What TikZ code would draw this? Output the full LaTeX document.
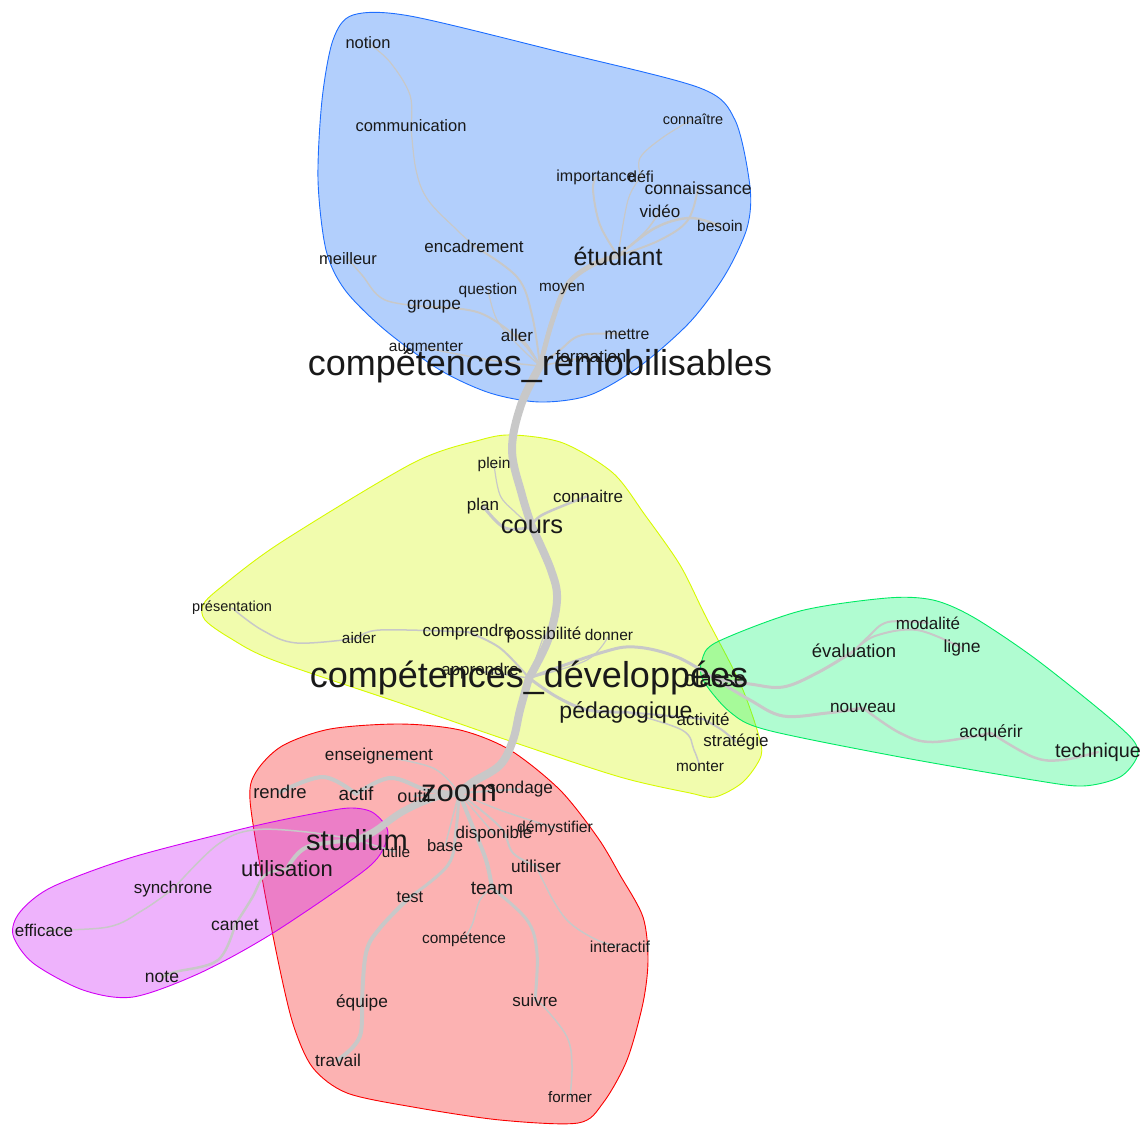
\documentclass[tikz,border=0pt]{standalone}
\usepackage{fontspec}
\setmainfont{Liberation Sans}
\pgfdeclarelayer{hulls}
\pgfdeclarelayer{edges}
\pgfsetlayers{hulls,edges,main}
\definecolor{bluefill}{RGB}{16,107,246}
\definecolor{blueline}{RGB}{30,110,255}
\definecolor{yelfill}{RGB}{210,246,0}
\definecolor{yelline}{RGB}{215,250,0}
\definecolor{grnfill}{RGB}{10,246,113}
\definecolor{grnline}{RGB}{0,235,100}
\definecolor{redfill}{RGB}{246,16,16}
\definecolor{redline}{RGB}{250,0,0}
\definecolor{purfill}{RGB}{203,19,246}
\definecolor{purline}{RGB}{210,0,245}
\definecolor{edgegray}{RGB}{200,200,200}
\definecolor{wordcol}{RGB}{25,25,25}
\tikzset{
  wd/.style={font=\fontsize{#1}{#1}\selectfont, inner sep=0pt, text=wordcol},
  hull/.style={draw=#1line, fill=#1fill, fill opacity=0.32, line width=0.9pt},
  edge/.style={draw=edgegray, line width=#1, line cap=round},
  edge/.default=1.2pt
}
\begin{document}
\begin{tikzpicture}[x=1pt,y=-1pt]
\useasboundingbox (0,0) rectangle (1142,1125);
% ---------- hulls ----------
\begin{pgfonlayer}{hulls}
\path[hull=yel] plot[smooth cycle, tension=0.5] coordinates {(513,435) (563,443) (613,473) (645,515) (680,565) (705,615) (740,683) (758,733) (761,756) (743,782) (715,797) (690,793) (620,777) (507,740) (400,703) (273,660) (230,638) (205,620) (203,605) (220,588) (280,543) (413,463) (480,440)};
\path[hull=grn] plot[smooth cycle, tension=0.5] coordinates {(703,680) (702,660) (717,642) (800,611) (887,598) (933,600) (973,617) (1033,657) (1100,710) (1133,740) (1137,757) (1120,777) (1083,786) (1033,780) (900,757) (767,730) (730,712)};
\path[hull=red] plot[smooth cycle, tension=0.5] coordinates {(250,800) (256,772) (282,746) (330,729) (400,724) (460,730) (510,750) (560,790) (598,838) (620,875) (643,917) (648,960) (643,1003) (627,1060) (603,1103) (578,1123) (500,1120) (413,1107) (347,1093) (313,1068) (294,1027) (280,970) (263,883)};
\path[hull=pur] plot[smooth cycle, tension=0.5] coordinates {(350,808) (372,812) (387,828) (385,845) (365,870) (273,933) (200,973) (133,997) (83,990) (33,963) (13,935) (20,912) (52,887) (133,857) (250,827) (317,813)};
\path[hull=blue] plot[smooth cycle, tension=0.5] coordinates {(353,15) (410,16) (560,52) (700,88) (735,120) (750,187) (747,228) (725,275) (690,322) (640,366) (590,395) (540,402) (490,393) (440,370) (385,330) (345,290) (326,250) (318,180) (322,100) (333,40)};
\end{pgfonlayer}
% ---------- words ----------
% blue cluster
\node[wd=36] (rem) at (540,366) {compétences\_remobilisables};
\node[wd=16.5] (notion) at (368,43) {notion};
\node[wd=16.5] (communication) at (411,126) {communication};
\node[wd=14.5] (connaitreB) at (693,119) {connaître};
\node[wd=16] (importance) at (596,177) {importance};
\node[wd=16] (defi) at (641,177) {défi};
\node[wd=17.5] (connaissance) at (698,188) {connaissance};
\node[wd=17] (video) at (660,211) {vidéo};
\node[wd=15.5] (besoin) at (720,226) {besoin};
\node[wd=25] (etudiant) at (618,256) {étudiant};
\node[wd=17] (encadrement) at (474,246) {encadrement};
\node[wd=16.5] (meilleur) at (348,259) {meilleur};
\node[wd=15.5] (question) at (488,290) {question};
\node[wd=15.3] (moyen) at (562,289) {moyen};
\node[wd=17.3] (groupe) at (434,307) {groupe};
\node[wd=17] (aller) at (517,335) {aller};
\node[wd=15.8] (mettre) at (627,334) {mettre};
\node[wd=15.5] (augmenter) at (426,348) {augmenter};
\node[wd=17] (formation) at (591,356) {formation};
% yellow cluster
\node[wd=36] (dev) at (529,678) {compétences\_développées};
\node[wd=15.5] (plein) at (494,464) {plein};
\node[wd=17] (connaitreY) at (588,496) {connaitre};
\node[wd=17] (plan) at (483,506) {plan};
\node[wd=25.5] (cours) at (532,527) {cours};
\node[wd=14.5] (presentation) at (232,608) {présentation};
\node[wd=15.3] (aider) at (359,638) {aider};
\node[wd=17] (comprendre) at (468,632) {comprendre};
\node[wd=17] (possibilite) at (544,635) {possibilité};
\node[wd=15.5] (donner) at (609,635) {donner};
\node[wd=17] (apprendre) at (480,671) {apprendre};
\node[wd=22] (seance) at (715,679) {classe};
\node[wd=23] (pedagogique) at (626,712) {pédagogique};
\node[wd=17] (activite) at (703,719) {activité};
\node[wd=17] (strategie) at (736,742) {stratégie};
\node[wd=15.4] (monter) at (700,767) {monter};
% green cluster
\node[wd=17] (modalite) at (928,623) {modalité};
\node[wd=18.5] (evaluation) at (854,651) {évaluation};
\node[wd=17.5] (ligne) at (962,648) {ligne};
\node[wd=17.2] (nouveau) at (863,708) {nouveau};
\node[wd=17.5] (acquerir) at (991,733) {acquérir};
\node[wd=19.8] (technique) at (1098,752) {technique};
% red cluster
\node[wd=31] (zoom) at (459,793) {zoom};
\node[wd=17.2] (enseignement) at (379,756) {enseignement};
\node[wd=18.5] (rendre) at (280,792) {rendre};
\node[wd=19] (actif) at (356,794) {actif};
\node[wd=18] (outil) at (414,796) {outil};
\node[wd=17.2] (sondage) at (520,789) {sondage};
\node[wd=29] (studium) at (357,840) {studium};
\node[wd=15.3] (utile) at (396,852) {utile};
\node[wd=17] (disponible) at (494,834) {disponible};
\node[wd=15.7] (demystifier) at (555,828) {démystifier};
\node[wd=16.6] (base) at (445,846) {base};
\node[wd=22] (utilisation) at (287,869) {utilisation};
\node[wd=17.3] (utiliser) at (536,866) {utiliser};
\node[wd=19] (team) at (492,888) {team};
\node[wd=16.5] (test) at (410,897) {test};
\node[wd=15.4] (competence) at (464,939) {compétence};
\node[wd=15.9] (interactif) at (620,947) {interactif};
\node[wd=17.3] (equipe) at (362,1003) {équipe};
\node[wd=17] (suivre) at (535,1000) {suivre};
\node[wd=17.2] (travail) at (338,1060) {travail};
\node[wd=15.2] (former) at (570,1097) {former};
% purple cluster
\node[wd=17] (synchrone) at (173,889) {synchrone};
\node[wd=17] (efficace) at (44,930) {efficace};
\node[wd=17.5] (carnet) at (235,925) {camet};
\node[wd=17.5] (note) at (162,977) {note};
% ---------- edges ----------
\begin{pgfonlayer}{edges}
% trunk
\draw[edge=8pt] plot[smooth, tension=0.6] coordinates {(rem.center) (521,405) (512,450) (522,495) (cours.center)};
\draw[edge=8pt] plot[smooth, tension=0.6] coordinates {(cours.center) (551,570) (557,600) (548,640) (dev.center)};
\draw[edge=8pt] plot[smooth, tension=0.6] coordinates {(dev.center) (520,710) (513,740) (500,765) (473,782) (zoom.center)};
\draw[edge=7pt] plot[smooth, tension=0.6] coordinates {(zoom.center) (433,798) (402,812) (375,831) (studium.center)};
% blue
\draw[edge=5pt] plot[smooth, tension=0.6] coordinates {(rem.center) (552,322) (567,285) (592,265) (etudiant.center)};
\draw[edge=2pt] plot[smooth, tension=0.6] coordinates {(etudiant.center) (600,225) (593,190) (importance.center)};
\draw[edge=1.2pt] plot[smooth, tension=0.6] coordinates {(etudiant.center) (628,200) (defi.center)};
\draw[edge=1.2pt] plot[smooth, tension=0.6] coordinates {(defi.center) (640,158) (662,138) (connaitreB.center)};
\draw[edge=1.6pt] plot[smooth, tension=0.6] coordinates {(etudiant.center) (645,232) (video.center)};
\draw[edge=2pt] plot[smooth, tension=0.6] coordinates {(etudiant.center) (660,240) (688,220) (connaissance.center)};
\draw[edge=2.5pt] plot[smooth, tension=0.6] coordinates {(etudiant.center) (655,228) (690,218) (besoin.center)};
\draw[edge=2pt] plot[smooth, tension=0.6] coordinates {(rem.center) (527,345) (aller.center)};
\draw[edge=2pt] plot[smooth, tension=0.6] coordinates {(rem.center) (520,340) (480,313) (groupe.center)};
\draw[edge=1.5pt] plot[smooth, tension=0.6] coordinates {(groupe.center) (385,300) (362,275) (meilleur.center)};
\draw[edge=2pt] plot[smooth, tension=0.6] coordinates {(rem.center) (532,315) (517,277) (encadrement.center)};
\draw[edge=1.2pt] plot[smooth, tension=0.6] coordinates {(encadrement.center) (457,230) (428,200) (416,170) (communication.center)};
\draw[edge=1.2pt] plot[smooth, tension=0.6] coordinates {(communication.center) (410,95) (390,62) (notion.center)};
\draw[edge=1.2pt] plot[smooth, tension=0.6] coordinates {(rem.center) (518,345) (497,320) (question.center)};
\draw[edge=1.5pt] plot[smooth, tension=0.6] coordinates {(rem.center) (548,330) (moyen.center)};
\draw[edge=2pt] plot[smooth, tension=0.6] coordinates {(rem.center) (560,350) (582,335) (mettre.center)};
\draw[edge=1.5pt] (rem.center) -- (formation.center);
\draw[edge=1.5pt] plot[smooth, tension=0.6] coordinates {(rem.center) (490,360) (augmenter.center)};
% yellow
\draw[edge=1.2pt] plot[smooth, tension=0.6] coordinates {(cours.center) (515,512) (500,495) (plein.center)};
\draw[edge=3pt] plot[smooth, tension=0.6] coordinates {(cours.center) (505,528) (plan.center)};
\draw[edge=2.5pt] plot[smooth, tension=0.6] coordinates {(cours.center) (542,515) (connaitreY.center)};
\draw[edge=2pt] plot[smooth, tension=0.6] coordinates {(dev.center) (500,648) (comprendre.center)};
\draw[edge=1.5pt] plot[smooth, tension=0.6] coordinates {(comprendre.center) (380,630) (aider.center)};
\draw[edge=1.5pt] plot[smooth, tension=0.6] coordinates {(aider.center) (297,643) (262,630) (presentation.center)};
\draw[edge=1.2pt] (dev.center) -- (possibilite.center);
\draw[edge=1.2pt] plot[smooth, tension=0.6] coordinates {(dev.center) (587,660) (donner.center)};
\draw[edge=1.5pt] (dev.center) -- (apprendre.center);
\draw[edge=3pt] plot[smooth, tension=0.6] coordinates {(dev.center) (600,653) (635,647) (677,657) (seance.center)};
\draw[edge=3pt] plot[smooth, tension=0.6] coordinates {(seance.center) (750,684) (783,687) (817,673) (evaluation.center)};
\draw[edge=2pt] plot[smooth, tension=0.6] coordinates {(evaluation.center) (868,637) (888,622) (modalite.center)};
\draw[edge=2pt] plot[smooth, tension=0.6] coordinates {(evaluation.center) (875,636) (917,630) (ligne.center)};
\draw[edge=3pt] plot[smooth, tension=0.6] coordinates {(seance.center) (750,700) (783,716) (827,713) (nouveau.center)};
\draw[edge=2.5pt] plot[smooth, tension=0.6] coordinates {(nouveau.center) (900,733) (933,742) (acquerir.center)};
\draw[edge=2.5pt] plot[smooth, tension=0.6] coordinates {(acquerir.center) (1033,757) (1062,760) (technique.center)};
\draw[edge=3pt] plot[smooth, tension=0.6] coordinates {(dev.center) (557,697) (588,710) (pedagogique.center)};
\draw[edge=2pt] (pedagogique.center) -- (activite.center);
\draw[edge=2pt] plot[smooth, tension=0.6] coordinates {(activite.center) (722,730) (strategie.center)};
\draw[edge=1.5pt] plot[smooth, tension=0.6] coordinates {(pedagogique.center) (682,730) (694,750) (monter.center)};
% red
\draw[edge=1.5pt] plot[smooth, tension=0.6] coordinates {(zoom.center) (433,768) (enseignement.center)};
\draw[edge=4pt] plot[smooth, tension=0.6] coordinates {(zoom.center) (427,790) (390,778) (actif.center)};
\draw[edge=4pt] plot[smooth, tension=0.6] coordinates {(actif.center) (323,777) (rendre.center)};
\draw[edge=2pt] (zoom.center) -- (outil.center);
\draw[edge=2pt] (zoom.center) -- (sondage.center);
\draw[edge=1.5pt] plot[smooth, tension=0.6] coordinates {(zoom.center) (478,815) (disponible.center)};
\draw[edge=1.5pt] plot[smooth, tension=0.6] coordinates {(zoom.center) (500,810) (demystifier.center)};
\draw[edge=1.5pt] (zoom.center) -- (base.center);
\draw[edge=2pt] plot[smooth, tension=0.6] coordinates {(zoom.center) (500,827) (513,853) (utiliser.center)};
\draw[edge=1.5pt] plot[smooth, tension=0.6] coordinates {(utiliser.center) (553,900) (570,923) (597,940) (interactif.center)};
\draw[edge=4pt] plot[smooth, tension=0.6] coordinates {(zoom.center) (472,825) (486,860) (team.center)};
\draw[edge=1.5pt] plot[smooth, tension=0.6] coordinates {(team.center) (480,900) (472,925) (competence.center)};
\draw[edge=3pt] plot[smooth, tension=0.6] coordinates {(team.center) (527,920) (537,953) (suivre.center)};
\draw[edge=1.5pt] plot[smooth, tension=0.6] coordinates {(suivre.center) (545,1008) (567,1037) (572,1065) (former.center)};
\draw[edge=3pt] plot[smooth, tension=0.6] coordinates {(zoom.center) (456,830) (448,865) (test.center)};
\draw[edge=4pt] plot[smooth, tension=0.6] coordinates {(test.center) (380,928) (366,953) (equipe.center)};
\draw[edge=4pt] plot[smooth, tension=0.6] coordinates {(equipe.center) (361,1032) (353,1047) (travail.center)};
\draw[edge=1.5pt] (studium.center) -- (utile.center);
% purple
\draw[edge=1.5pt] plot[smooth, tension=0.6] coordinates {(studium.center) (307,832) (253,830) (217,845) (synchrone.center)};
\draw[edge=1.5pt] plot[smooth, tension=0.6] coordinates {(synchrone.center) (143,910) (108,927) (efficace.center)};
\draw[edge=4pt] plot[smooth, tension=0.6] coordinates {(studium.center) (307,847) (utilisation.center)};
\draw[edge=2.5pt] plot[smooth, tension=0.6] coordinates {(utilisation.center) (265,875) (252,898) (carnet.center)};
\draw[edge=2.5pt] plot[smooth, tension=0.6] coordinates {(carnet.center) (218,960) (175,972) (note.center)};
\end{pgfonlayer}
\end{tikzpicture}
\end{document}
